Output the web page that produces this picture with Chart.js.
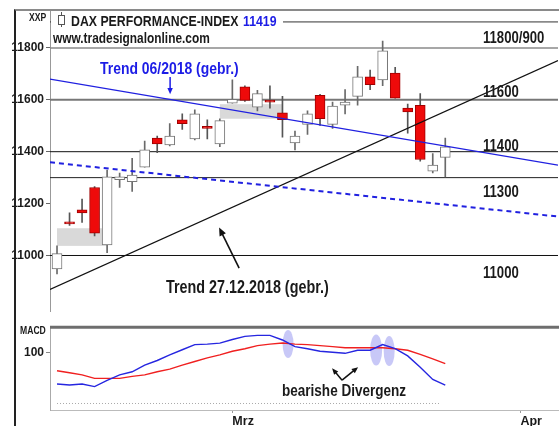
<!DOCTYPE html>
<html>
<head>
<meta charset="utf-8">
<script src="https://cdn.jsdelivr.net/npm/chart.js@4/dist/chart.umd.min.js"></script>
<style>
  body { margin: 0; background: #fff; width: 559px; height: 426px; overflow: hidden; position: relative;
         font-family: 'Liberation Sans', Arial, sans-serif; font-weight: bold; color: #1a1a1a; }
  canvas { position: absolute; left: 0; }
  .t { position: absolute; white-space: nowrap; line-height: 1; transform: scaleX(0.82); transform-origin: 0 0; }
  .blue { color: #1c1ce6; }
</style>
</head>
<body>
<canvas id="priceCanvas" width="559" height="321" style="top:0"></canvas>
<canvas id="macdCanvas" width="559" height="108" style="top:318px"></canvas>

<div style="position:absolute;left:14px;top:9px;width:545px;height:417px;border-left:2px solid #222;border-top:2px solid #8a8a8a"></div>

<div style="position:absolute;left:51px;top:12px;width:232px;height:18px;background:#fff"></div>
<div style="position:absolute;left:61px;top:12px;width:1px;height:15px;background:#555"></div>
<div style="position:absolute;left:58px;top:15px;width:5px;height:8px;border:1px solid #555;background:#fff"></div>
<div class="t" style="left:29px;top:12px;font-size:10.5px">XXP</div>
<div class="t" style="left:71px;top:13px;font-size:15px">DAX PERFORMANCE-INDEX</div>
<div class="t blue" style="left:243px;top:13px;font-size:15px">11419</div>
<div class="t" style="left:53px;top:31px;font-size:14.5px">www.tradesignalonline.com</div>

<div class="t" style="left:483px;top:30px;font-size:16px">11800/900</div>
<div class="t" style="left:483px;top:84px;font-size:16px">11600</div>
<div class="t" style="left:483px;top:138px;font-size:16px">11400</div>
<div class="t" style="left:483px;top:184px;font-size:16px">11300</div>
<div class="t" style="left:483px;top:265px;font-size:16px">11000</div>

<div class="t blue" style="left:100px;top:60px;font-size:17px">Trend 06/2018 (gebr.)</div>
<div class="t" style="left:166px;top:279px;font-size:17.5px">Trend 27.12.2018 (gebr.)</div>
<div class="t" style="left:20px;top:325px;font-size:10.5px">MACD</div>
<div class="t" style="left:282px;top:382px;font-size:16.5px">bearishe Divergenz</div>

<script>
const tradingDays = ['11.02', '12.02', '13.02', '14.02', '15.02', '18.02', '19.02', '20.02', '21.02', '22.02',
  '25.02', '26.02', '27.02', '28.02', '01.03', '04.03', '05.03', '06.03', '07.03', '08.03',
  '11.03', '12.03', '13.03', '14.03', '15.03', '18.03', '19.03', '20.03', '21.03', '22.03',
  '25.03', '26.03'];
const openValues = [10948, 11125, 11176, 11262, 11041, 11292, 11284, 11340, 11452, 11426,
  11523, 11449, 11497, 11430, 11587, 11650, 11572, 11594, 11550, 11434,
  11505, 11617, 11505, 11579, 11613, 11688, 11677, 11703, 11568, 11579,
  11325, 11378];
const highValues = [11037, 11164, 11217, 11266, 11329, 11318, 11374, 11441, 11460, 11508,
  11546, 11561, 11523, 11527, 11677, 11654, 11636, 11654, 11613, 11479,
  11557, 11621, 11591, 11639, 11729, 11714, 11826, 11725, 11583, 11624,
  11393, 11452];
const lowValues = [10929, 11116, 11127, 11075, 11011, 11262, 11247, 11340, 11396, 11422,
  11486, 11445, 11449, 11419, 11587, 11594, 11557, 11568, 11456, 11407,
  11467, 11501, 11490, 11546, 11579, 11639, 11654, 11606, 11471, 11363,
  11318, 11303];
const closeValues = [11007, 11122, 11164, 11086, 11303, 11303, 11310, 11407, 11430, 11460,
  11508, 11546, 11490, 11520, 11602, 11598, 11624, 11591, 11523, 11460,
  11546, 11527, 11576, 11591, 11688, 11658, 11789, 11606, 11553, 11370,
  11348, 11419];
const macdValues = [38, 36, 38, 33, 45, 56, 62, 75, 84, 95,
  105, 115, 116, 118, 125, 131, 133, 133, 124, 111,
  107, 102, 100, 98, 104, 104, 115, 107, 93, 71,
  47, 36];
const signalValues = [64, 60, 56, 49, 49, 49, 53, 56, 62, 67,
  75, 82, 89, 95, 102, 107, 113, 116, 118, 116,
  115, 113, 111, 109, 109, 109, 109, 107, 104, 96,
  87, 78];
const priceTicks = [11000, 11200, 11400, 11600, 11800];
const levelValues = [11900, 11800, 11600, 11400, 11300, 11000];
const macdTicks = [100];
const timeTickIndex = [14, 37];
const timeTickLabels = ['Mrz', 'Apr'];
const trend2018 = [{x: -0.56, y: 11680}, {x: 40, y: 11348}];
const trendDashed = [{x: -0.56, y: 11359}, {x: 40, y: 11150}];
const trend1227 = [{x: -0.56, y: 10869}, {x: 40, y: 11751}];
const gapBoxes = [[0, 4, 11037, 11105], [13, 18, 11527, 11583]];
const divergenceMarks = [{x: 18.45, y: 116}, {x: 25.48, y: 104.5}, {x: 26.52, y: 102.4}];

const xMin = -0.56, xMax = 40;
const fontFamily = "'Liberation Sans', Arial, sans-serif";
const idx = tradingDays.map((d, i) => i);
const isUp = idx.map(i => closeValues[i] >= openValues[i]);

function arrow(ctx, x1, y1, x2, y2, color, width, head) {
  const a = Math.atan2(y2 - y1, x2 - x1);
  ctx.save();
  ctx.strokeStyle = color;
  ctx.fillStyle = color;
  ctx.lineWidth = width;
  ctx.beginPath();
  ctx.moveTo(x1, y1);
  ctx.lineTo(x2 - Math.cos(a) * head * 0.8, y2 - Math.sin(a) * head * 0.8);
  ctx.stroke();
  ctx.beginPath();
  ctx.moveTo(x2, y2);
  ctx.lineTo(x2 - head * Math.cos(a - 0.4), y2 - head * Math.sin(a - 0.4));
  ctx.lineTo(x2 - head * Math.cos(a + 0.4), y2 - head * Math.sin(a + 0.4));
  ctx.closePath();
  ctx.fill();
  ctx.restore();
}

const priceNotes = {
  id: 'priceNotes',
  beforeDatasetsDraw(chart) {
    const {ctx, scales: {x, y}} = chart;
    ctx.save();
    ctx.fillStyle = '#d9d9d9';
    gapBoxes.forEach(([i0, i1, lo, hi]) => {
      const px0 = x.getPixelForValue(i0), px1 = x.getPixelForValue(i1);
      const py0 = y.getPixelForValue(hi), py1 = y.getPixelForValue(lo);
      ctx.fillRect(px0, py0, px1 - px0, py1 - py0);
    });
    ctx.restore();
  },
  afterDatasetsDraw(chart) {
    const {ctx, scales: {x, y}} = chart;
    arrow(ctx, x.getPixelForValue(9.03), y.getPixelForValue(11688),
      x.getPixelForValue(9.03), y.getPixelForValue(11621), '#1c1ce6', 1.5, 7);
    arrow(ctx, x.getPixelForValue(14.54), y.getPixelForValue(10951),
      x.getPixelForValue(12.94), y.getPixelForValue(11108), '#111', 1.6, 9);
  }
};

const levelStyle = {
  11900: ['#333', 1], 11800: ['#8a8a8a', 1.5], 11600: ['#777', 2],
  11400: ['#111', 1], 11300: ['#222', 1], 11000: ['#111', 1]
};

const priceDatasets = [];
levelValues.forEach(v => {
  priceDatasets.push({
    type: 'line', data: [{x: xMin, y: v}, {x: xMax, y: v}],
    borderColor: levelStyle[v][0], borderWidth: levelStyle[v][1], pointRadius: 0, order: 10
  });
});
priceDatasets.push({
  type: 'bar', order: 5, grouped: false, barThickness: 1,
  data: idx.map(i => ({x: i, y: [lowValues[i], highValues[i]]})),
  backgroundColor: idx.map(i => isUp[i] ? '#6a6a6a' : '#555')
});
priceDatasets.push({
  type: 'bar', order: 4, grouped: false, barThickness: 10, minBarLength: 2,
  borderSkipped: false, borderWidth: 1,
  data: idx.map(i => ({x: i, y: [openValues[i], closeValues[i]]})),
  backgroundColor: idx.map(i => isUp[i] ? '#fff' : '#ee0a0a'),
  borderColor: idx.map(i => isUp[i] ? '#777' : '#a00000')
});
priceDatasets.push({type: 'line', order: 1, data: trend2018, borderColor: '#2020e0', borderWidth: 1.2, pointRadius: 0});
priceDatasets.push({type: 'line', order: 1, data: trendDashed, borderColor: '#2020e0', borderWidth: 2, borderDash: [5, 4], pointRadius: 0});
priceDatasets.push({type: 'line', order: 1, data: trend1227, borderColor: '#111', borderWidth: 1.2, pointRadius: 0});

new Chart(document.getElementById('priceCanvas'), {
  type: 'bar',
  data: {datasets: priceDatasets},
  options: {
    responsive: false,
    animation: false,
    layout: {padding: {top: 10, right: 1, left: 0, bottom: 0}},
    plugins: {legend: {display: false}, tooltip: {enabled: false}},
    scales: {
      x: {type: 'linear', min: xMin, max: xMax, offset: false, display: false},
      y: {
        min: 10783, max: 11946, beginAtZero: false,
        afterBuildTicks: s => { s.ticks = priceTicks.map(v => ({value: v})); },
        afterFit: s => { s.width = 50; },
        ticks: {callback: v => String(v), font: {family: fontFamily, size: 12, weight: 'bold'}, color: '#1a1a1a', padding: 2},
        grid: {drawOnChartArea: false, tickLength: 4, color: '#666'},
        border: {color: '#999', width: 1}
      }
    }
  },
  plugins: [priceNotes]
});

const macdNotes = {
  id: 'macdNotes',
  beforeDatasetsDraw(chart) {
    const {ctx, scales: {x, y}} = chart;
    const radii = [[5.5, 14], [6, 15.5], [5.5, 15]];
    ctx.save();
    ctx.fillStyle = 'rgba(125, 125, 235, 0.42)';
    divergenceMarks.forEach((m, k) => {
      ctx.beginPath();
      ctx.ellipse(x.getPixelForValue(m.x), y.getPixelForValue(m.y), radii[k][0], radii[k][1], 0, 0, Math.PI * 2);
      ctx.fill();
    });
    ctx.restore();
  },
  afterDatasetsDraw(chart) {
    const {ctx, scales: {x, y}} = chart;
    arrow(ctx, x.getPixelForValue(22.76), y.getPixelForValue(45.5),
      x.getPixelForValue(21.96), y.getPixelForValue(69), '#111', 1.5, 7);
    arrow(ctx, x.getPixelForValue(22.76), y.getPixelForValue(45.5),
      x.getPixelForValue(24.04), y.getPixelForValue(71), '#111', 1.5, 7);
  },
  afterDraw(chart) {
    const {ctx, chartArea} = chart;
    ctx.save();
    ctx.strokeStyle = '#6e6e6e';
    ctx.lineWidth = 3;
    ctx.beginPath();
    ctx.moveTo(chartArea.left, chartArea.top);
    ctx.lineTo(chart.width, chartArea.top);
    ctx.stroke();
    ctx.restore();
  }
};

new Chart(document.getElementById('macdCanvas'), {
  type: 'line',
  data: {
    datasets: [
      {data: idx.map(i => ({x: i, y: macdValues[i]})), borderColor: '#2626e0', borderWidth: 1.4, pointRadius: 0, tension: 0},
      {data: idx.map(i => ({x: i, y: signalValues[i]})), borderColor: '#f02020', borderWidth: 1.4, pointRadius: 0, tension: 0},
      {data: [{x: 0, y: 0}, {x: 30.5, y: 0}], borderColor: '#aaa', borderWidth: 1, borderDash: [1, 2], pointRadius: 0}
    ]
  },
  options: {
    responsive: false,
    animation: false,
    layout: {padding: {top: 3, right: 1, left: 0, bottom: 0}},
    plugins: {legend: {display: false}, tooltip: {enabled: false}},
    scales: {
      x: {
        type: 'linear', min: xMin, max: xMax, offset: false,
        afterBuildTicks: s => { s.ticks = timeTickIndex.map(v => ({value: v})); },
        afterFit: s => { s.height = 16; },
        ticks: {
          callback: v => timeTickLabels[timeTickIndex.indexOf(v)],
          align: 'start', autoSkip: false, maxRotation: 0, padding: 1,
          font: {family: fontFamily, size: 12.5, weight: 'bold'}, color: '#1a1a1a'
        },
        grid: {drawOnChartArea: false, tickLength: 3, color: '#999'},
        border: {color: '#bbb', width: 1}
      },
      y: {
        min: -12.7, max: 149,
        afterBuildTicks: s => { s.ticks = macdTicks.map(v => ({value: v})); },
        afterFit: s => { s.width = 50; },
        ticks: {callback: v => String(v), font: {family: fontFamily, size: 12, weight: 'bold'}, color: '#1a1a1a', padding: 2},
        grid: {drawOnChartArea: false, tickLength: 4, color: '#888'},
        border: {color: '#aaa', width: 1}
      }
    }
  },
  plugins: [macdNotes]
});
</script>
</body>
</html>
